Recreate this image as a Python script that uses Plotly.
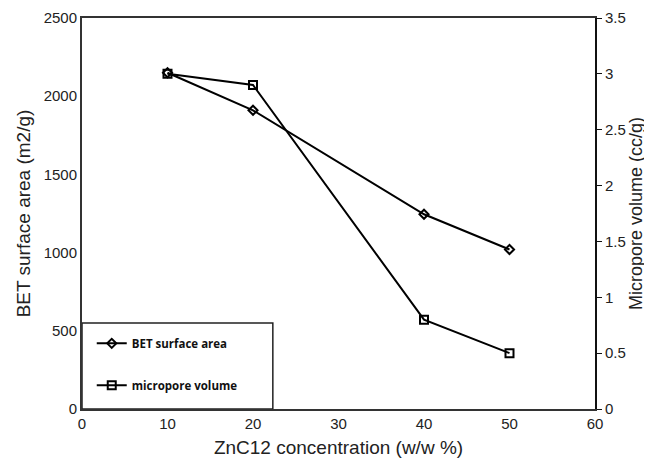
import plotly.graph_objects as go

conc = [10, 20, 40, 50]
bet_area = [2150, 1910, 1245, 1020]
micro_vol = [3.0, 2.9, 0.8, 0.5]
x_ticks = [0, 10, 20, 30, 40, 50, 60]

fig = go.Figure()
fig.add_trace(go.Scatter(
    x=conc, y=bet_area, mode="lines+markers", name="BET surface area",
    line=dict(color="black", width=2),
    marker=dict(symbol="diamond-open", size=7, color="black", line=dict(width=2)),
    legendgroup="a", yaxis="y"))
fig.add_trace(go.Scatter(
    x=conc, y=micro_vol, mode="lines+markers", name="micropore volume",
    line=dict(color="black", width=2),
    marker=dict(symbol="square-open", size=8, color="black", line=dict(width=2)),
    legendgroup="b", yaxis="y2"))

font_main = "Liberation Sans, Arial, sans-serif"
fig.add_shape(type="rect", xref="paper", yref="paper", x0=0, x1=0.372, y0=0, y1=0.22,
              line=dict(color="#222", width=1.5), fillcolor="white", layer="below")
fig.update_layout(
    width=644, height=450,
    margin=dict(l=74, r=57, t=10, b=49),
    paper_bgcolor="white", plot_bgcolor="white",
    font=dict(family=font_main, size=15, color="#222"),
    xaxis=dict(range=[0, 60], tickvals=x_ticks, showline=True, linecolor="#333", linewidth=2,
               mirror=True, showgrid=False, zeroline=False, ticks="", automargin=False,
               title=dict(text="ZnC12 concentration (w/w %)", font=dict(size=19), standoff=14),
               tickfont=dict(size=15)),
    yaxis=dict(range=[0, 2500], dtick=500, showline=True, linecolor="#333", linewidth=2,
               showgrid=False, zeroline=False, ticks="", automargin=False,
               title=dict(text="BET surface area (m2/g)", font=dict(size=19), standoff=8),
               tickfont=dict(size=15)),
    yaxis2=dict(range=[0, 3.5], dtick=0.5, overlaying="y", side="right", showline=True,
                linecolor="#111", linewidth=2, showgrid=False, zeroline=False,
                ticks="outside", ticklen=5, tickcolor="#111", automargin=False,
                title=dict(text="Micropore volume (cc/g)", font=dict(size=18), standoff=4),
                tickfont=dict(size=15)),
    legend=dict(x=0.019, y=0.205, xanchor="left", yanchor="top", borderwidth=0,
                bgcolor="rgba(0,0,0,0)", traceorder="grouped", tracegroupgap=23,
                font=dict(family="Open Sans, sans-serif", size=11.5, color="#111", weight="bold"),
                itemwidth=30),
    showlegend=True,
)
fig.write_html("out.html")
